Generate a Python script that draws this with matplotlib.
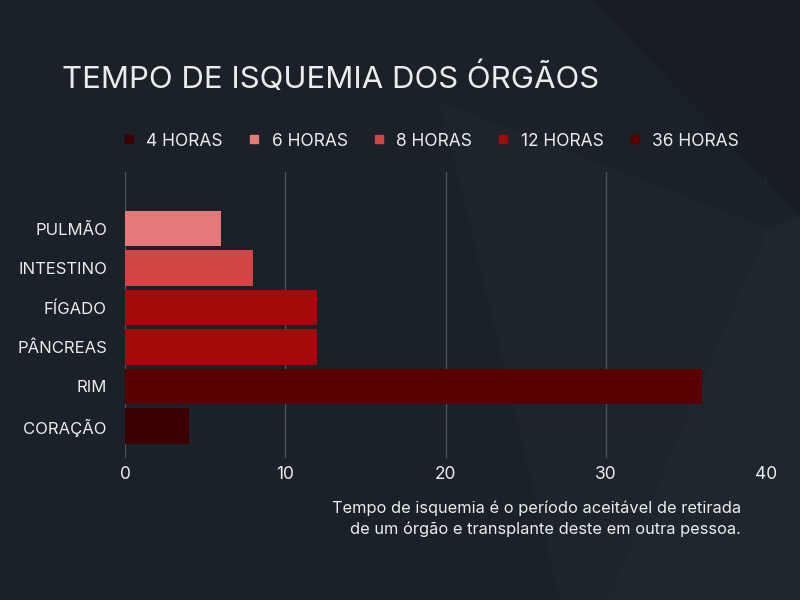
import matplotlib.pyplot as plt
from matplotlib.lines import Line2D
from matplotlib.patches import Polygon

orgaos = ['CORAÇÃO', 'RIM', 'PÂNCREAS', 'FÍGADO', 'INTESTINO', 'PULMÃO']
horas = [4, 36, 12, 12, 8, 6]
cores = ['#3d0000', '#5a0000', '#a30a0a', '#a30a0a', '#d24545', '#e57878']

legenda_rotulos = ['4 HORAS', '6 HORAS', '8 HORAS', '12 HORAS', '36 HORAS']
legenda_cores = ['#3d0000', '#e57878', '#d24545', '#a30a0a', '#5a0000']

bg = '#1b2129'
texto = '#ececec'

plt.rcParams['font.family'] = ['Inter', 'DejaVu Sans']

fig = plt.figure(figsize=(8, 6), dpi=100, facecolor=bg)

# shapes in the background, kept behind the axes
fig.patches.append(Polygon([(0.74, 1.0), (1.0, 1.0), (1.0, 0.64)], closed=True,
                           transform=fig.transFigure, facecolor='#181d24', zorder=-10))
fig.patches.append(Polygon([(0.55, 0.83), (0.96, 0.62), (0.76, 0.0), (0.70, 0.0)], closed=True,
                           transform=fig.transFigure, facecolor='#1d242c', zorder=-10))
fig.patches.append(Polygon([(0.96, 0.62), (1.0, 0.64), (1.0, 0.0), (0.76, 0.0)], closed=True,
                           transform=fig.transFigure, facecolor='#1e262e', zorder=-10))

ax = fig.add_axes([0.15625, 0.2367, 0.80125, 0.4766])
ax.set_facecolor('none')

y = range(len(orgaos))
ax.barh(y, horas, height=0.9, color=cores, zorder=3)

ax.set_xlim(0, 40)
ax.set_ylim(-0.81, 6.43)
ax.set_xticks([0, 10, 20, 30, 40])
ax.set_yticks(list(y))
ax.set_yticklabels(orgaos)
ax.grid(axis='x', color='#4d5560', linewidth=0.9, zorder=0)
for s in ax.spines.values():
    s.set_visible(False)
ax.tick_params(axis='both', length=0, colors=texto, labelsize=12)
ax.tick_params(axis='x', pad=6, labelsize=12.5)
ax.tick_params(axis='y', pad=13)

fig.text(0.0775, 0.87, 'TEMPO DE ISQUEMIA DOS ÓRGÃOS', color=texto, fontsize=22.4,
         va='center', ha='left')

handles = [Line2D([], [], marker='s', linestyle='none', markersize=6,
                  markerfacecolor=c, markeredgecolor=c) for c in legenda_cores]
fig.legend(handles, legenda_rotulos, ncol=5, loc='center', bbox_to_anchor=(0.537, 0.765),
           frameon=False, fontsize=12.5, labelcolor=texto, handletextpad=0.5,
           columnspacing=1.3, handlelength=1.0)

fig.text(0.926, 0.136, 'Tempo de isquemia é o período aceitável de retirada\n'
         'de um órgão e transplante deste em outra pessoa.',
         color=texto, fontsize=11.8, ha='right', va='center', multialignment='right',
         linespacing=1.45)

fig.savefig('out.png', dpi=100, facecolor=bg)
